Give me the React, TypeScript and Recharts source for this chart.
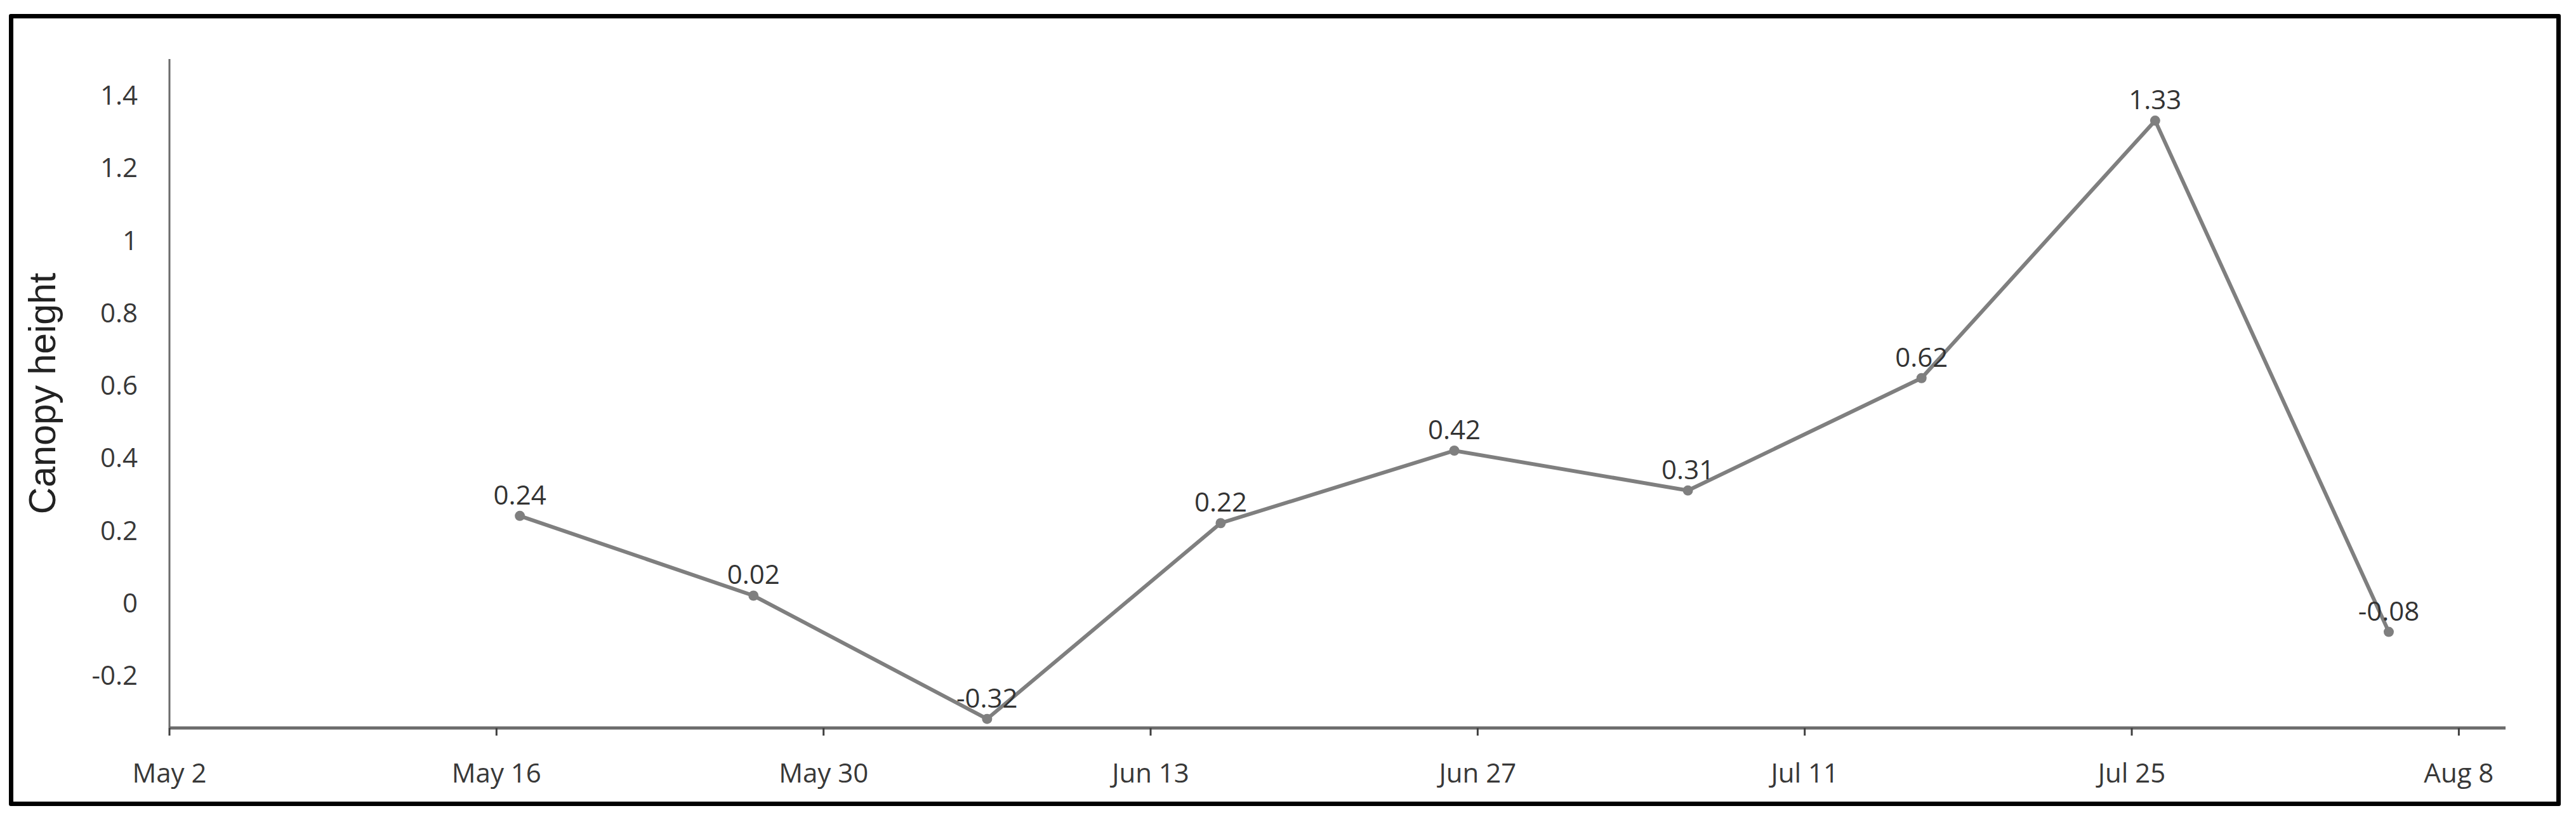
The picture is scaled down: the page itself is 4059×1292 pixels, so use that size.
import React from 'react';
import { LineChart, Line, XAxis, YAxis, LabelList } from 'recharts';

// measurement dates (UTC) and canopy height values
const dates = ['2023-05-17', '2023-05-27', '2023-06-06', '2023-06-16', '2023-06-26', '2023-07-06', '2023-07-16', '2023-07-26', '2023-08-05'];
const values = [0.24, 0.02, -0.32, 0.22, 0.42, 0.31, 0.62, 1.33, -0.08];

const xTickDates = ['2023-05-02', '2023-05-16', '2023-05-30', '2023-06-13', '2023-06-27', '2023-07-11', '2023-07-25', '2023-08-08'];
const xDomainDates = ['2023-05-02', '2023-08-10'];
const yTicks = [-0.2, 0, 0.2, 0.4, 0.6, 0.8, 1, 1.2, 1.4];
const yDomain: [number, number] = [-0.345, 1.5];

const toTime = (s: string) => new Date(s + 'T00:00:00Z').getTime();

const data = dates.map((d, i) => ({ t: toTime(d), value: values[i] }));

const fmtDate = (t: number) =>
    new Date(t).toLocaleDateString('en-US', { month: 'short', day: 'numeric', timeZone: 'UTC' });

const TICK_FONT = '"Open Sans", "Noto Sans", sans-serif';
const GRAY = '#7f7f7f';

const App: React.FC = () => {
    return (
        <div style={{ position: 'absolute', left: 0, top: 0, width: 4059, height: 1292, background: '#fff' }}>
            <div
                style={{
                    position: 'absolute',
                    left: 14,
                    top: 22,
                    width: 4021,
                    height: 1248,
                    border: '7px solid #000',
                    borderRadius: 3,
                    boxSizing: 'border-box',
                }}
            />
            <div style={{ position: 'absolute', left: 0, top: 0 }}>
                <LineChart
                    width={4059}
                    height={1292}
                    data={data}
                    margin={{ top: 93, right: 111, left: 20, bottom: 45 }}
                >
                    <XAxis
                        dataKey="t"
                        type="number"
                        scale="time"
                        domain={xDomainDates.map(toTime)}
                        ticks={xTickDates.map(toTime)}
                        tickFormatter={fmtDate}
                        height={100}
                        stroke="#6b6b6b"
                        strokeWidth={5}
                        tickSize={12}
                        tickMargin={44}
                        tick={{ fill: '#383838', fontSize: 42, fontFamily: TICK_FONT }}
                        tickLine={{ stroke: '#404040', strokeWidth: 3 }}
                        allowDataOverflow
                    />
                    <YAxis
                        type="number"
                        domain={yDomain}
                        ticks={yTicks}
                        width={247}
                        stroke="#6b6b6b"
                        strokeWidth={3}
                        tickLine={false}
                        tickSize={6}
                        tickMargin={44}
                        tick={{ fill: '#383838', fontSize: 42, fontFamily: TICK_FONT }}
                        allowDataOverflow
                        label={{
                            content: (props: any) => {
                                const vb = props.viewBox || { x: 0, y: 0, width: 0, height: 0 };
                                const cx = vb.x + 47;
                                const cy = vb.y + vb.height / 2;
                                return (
                                    <text
                                        x={cx}
                                        y={cy}
                                        transform={`rotate(-90, ${cx}, ${cy})`}
                                        textAnchor="middle"
                                        dominantBaseline="central"
                                        fill="#222"
                                        fontSize={59}
                                        fontFamily='"Liberation Sans", Arial, sans-serif'
                                    >
                                        Canopy height
                                    </text>
                                );
                            },
                        }}
                    />
                    <Line
                        type="linear"
                        dataKey="value"
                        stroke={GRAY}
                        strokeWidth={6}
                        dot={{ r: 8, fill: GRAY, stroke: 'none' }}
                        activeDot={false}
                        isAnimationActive={false}
                    >
                        <LabelList
                            dataKey="value"
                            position="top"
                            offset={18}
                            fill="#333"
                            fontSize={42}
                            fontFamily={TICK_FONT}
                        />
                    </Line>
                </LineChart>
            </div>
        </div>
    );
};

export default App;
